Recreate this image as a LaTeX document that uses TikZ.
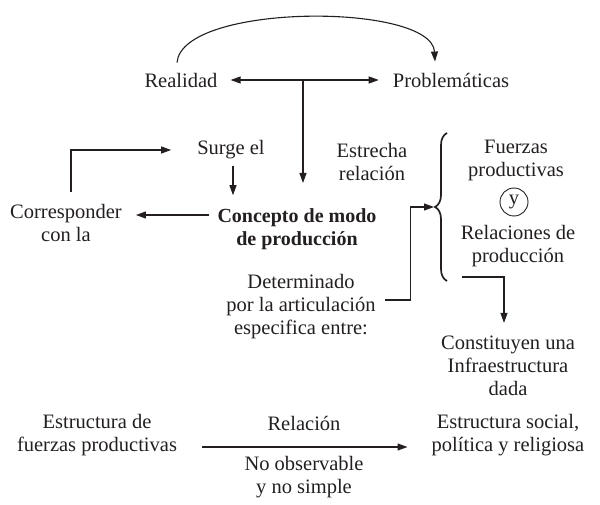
\documentclass[tikz,border=0pt]{standalone}
\usepackage{fontspec}
\setmainfont{Liberation Serif}
\usetikzlibrary{arrows.meta,decorations.pathreplacing}
\definecolor{ink}{HTML}{231F20}
\begin{document}
\begin{tikzpicture}[x=1pt,y=-1pt,
  lbl/.style={inner sep=0pt, align=center, text=ink, font=\fontsize{20.5}{23}\selectfont},
  boldlbl/.style={lbl, font=\bfseries\fontsize{20}{23}\selectfont},
  tip/.tip={Triangle[length=10pt,width=7pt]},
  conn/.style={draw=ink, line width=1.1pt, -tip},
  dconn/.style={draw=ink, line width=1.1pt, tip-tip},
  ybox/.style={circle, draw=ink, line width=0.9pt, minimum size=28pt, inner sep=0pt, text=ink, font=\fontsize{20.5}{23}\selectfont},
  bracestyle/.style={draw=ink, line width=1.7pt, decorate, decoration={brace, amplitude=12pt}}
]
\useasboundingbox (0,0) rectangle (600,505);

% nodes
\node[lbl] (real) at (181,80) {Realidad};
\node[lbl] (prob) at (451,80) {Problemáticas};
\node[lbl] (surge) at (231,150) {Surge el};
\node[lbl] (estr) at (372,162) {Estrecha\\relación};
\node[boldlbl] (conc) at (297,229) {Concepto de modo\\de producción};
\node[lbl] (corr) at (66,223) {Corresponder\\con la};
\node[lbl] (fuer) at (516,160) {Fuerzas\\productivas};
\node[ybox] (yc) at (514,202) {y};
\node[lbl] (rel) at (518,246) {Relaciones de\\producción};
\node[lbl] (det) at (301,307) {Determinado\\por la articulación\\especifica entre:};
\node[lbl] (cons) at (508,366) {Constituyen una\\Infraestructura\\dada};
\node[lbl] (efp) at (97,435) {Estructura de\\fuerzas productivas};
\node[lbl] (relacion) at (304,423) {Relación};
\node[lbl] (noobs) at (304,477) {No observable\\y no simple};
\node[lbl] (esoc) at (508,435) {Estructura social,\\política y religiosa};

% coordinates
\coordinate (jn) at (303,80);
\coordinate (vt) at (303,183);
\coordinate (brTop) at (447,133);
\coordinate (brBot) at (447,281);
\coordinate (brTip) at (434,207);

% brace
\draw[bracestyle] (brBot) -- (brTop);

% arc Realidad -> Problematicas
\draw[conn] ([shift={(-4,-10)}]real.north) .. controls +(5,-60) and +(-3,-59) .. ([shift={(-16,-11)}]prob.north);

% double arrow
\draw[dconn, shorten <=13pt, shorten >=14pt] (real.east) -- (prob.west);

% vertical to concepto
\draw[conn] (jn) -- (vt);

% surge -> concepto
\draw[conn, shorten <=6pt, shorten >=13pt] ([xshift=2pt]surge.south) -- ([xshift=2pt]surge.south |- conc.north);

% concepto -> corresponder
\path ([xshift=-8pt,yshift=14pt]conc.west) coordinate (a1);
\draw[conn, shorten >=14pt] (a1) -- (a1 -| corr.east);

% corresponder -> surge
\draw[conn, shorten >=26pt] ([shift={(5,-12)}]corr.north) |- (surge.west);

% determinado -> brace
\path ([shift={(9,-7)}]det.east) coordinate (d1);
\draw[conn] (d1) -- ++(26,0) |- (brTip);

% relaciones -> constituyen
\path ([shift={(-56,10)}]rel.south) coordinate (r1);
\draw[conn, shorten >=13pt] (r1) -| ([xshift=-4pt]cons.north);

% bottom arrow
\path ([shift={(25,12)}]efp.east) coordinate (b1);
\draw[conn, shorten >=24pt] (b1) -- (b1 -| esoc.west);
\end{tikzpicture}
\end{document}
